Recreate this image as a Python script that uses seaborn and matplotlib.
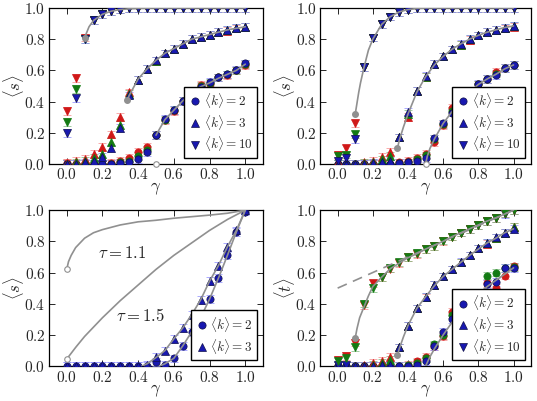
import numpy as np
import matplotlib
matplotlib.use("Agg")
import matplotlib.pyplot as plt
import seaborn as sns

sns.set_style("ticks")
plt.rcParams["mathtext.fontset"] = "cm"
plt.rcParams["font.family"] = ["DejaVu Serif"]

nan = np.nan
gammas = [0.0, 0.05, 0.1, 0.15, 0.2, 0.25, 0.3, 0.35, 0.4, 0.45, 0.5,
          0.55, 0.6, 0.65, 0.7, 0.75, 0.8, 0.85, 0.9, 0.95, 1.0]
err = 0.024

# ---- top left: <s>
tl_k10_r = [0.34, 0.55, 0.81, 0.92, 0.96, 0.98, 0.99, 1.0, 1.0, 1.0, 1.0, 1.0, 1.0, 1.0, 1.0, 1.0, 1.0, 1.0, 1.0, 1.0, 1.0]
tl_k10_g = [0.27, 0.48, 0.80, 0.92, 0.96, 0.98, 0.99, 1.0, 1.0, 1.0, 1.0, 1.0, 1.0, 1.0, 1.0, 1.0, 1.0, 1.0, 1.0, 1.0, 1.0]
tl_k10_b = [0.20, 0.42, 0.80, 0.92, 0.96, 0.98, 0.99, 1.0, 1.0, 1.0, 1.0, 1.0, 1.0, 1.0, 1.0, 1.0, 1.0, 1.0, 1.0, 1.0, 1.0]
tl_k3_r = [0.005, 0.02, 0.035, 0.065, 0.11, 0.19, 0.30, 0.46, 0.54, 0.61, 0.66, 0.71, 0.74, 0.77, 0.80, 0.815, 0.83, 0.845, 0.855, 0.87, 0.88]
tl_k3_g = [0.0, 0.01, 0.02, 0.04, 0.065, 0.14, 0.25, 0.45, 0.54, 0.61, 0.66, 0.71, 0.74, 0.77, 0.80, 0.815, 0.83, 0.845, 0.86, 0.875, 0.88]
tl_k3_b = [0.0, 0.0, 0.01, 0.02, 0.045, 0.10, 0.23, 0.44, 0.54, 0.61, 0.665, 0.71, 0.74, 0.77, 0.80, 0.815, 0.83, 0.845, 0.86, 0.875, 0.88]
tl_k2_r = [0.005, 0.0, 0.0, 0.0, 0.0, 0.005, 0.02, 0.04, 0.08, 0.11, 0.185, 0.28, 0.34, 0.405, 0.455, 0.505, 0.515, 0.555, 0.57, 0.60, 0.635]
tl_k2_g = [0.0, 0.0, 0.0, 0.0, 0.0, 0.0, 0.01, 0.02, 0.05, 0.09, 0.185, 0.285, 0.345, 0.405, 0.455, 0.50, 0.52, 0.555, 0.575, 0.60, 0.64]
tl_k2_b = [0.0, 0.0, 0.0, 0.0, 0.0, 0.0, 0.005, 0.01, 0.03, 0.075, 0.185, 0.29, 0.345, 0.405, 0.455, 0.495, 0.525, 0.555, 0.575, 0.605, 0.645]
tl_th10_x = [0.1, 0.125, 0.15, 0.2, 0.25, 0.3, 0.35, 0.4, 0.5, 0.6, 0.7, 0.8, 0.9, 1.0]
tl_th10_y = [0.81, 0.88, 0.92, 0.96, 0.98, 0.99, 0.995, 0.998, 1.0, 1.0, 1.0, 1.0, 1.0, 1.0]
tl_th3_x = [0.34, 0.35, 0.4, 0.45, 0.5, 0.55, 0.6, 0.65, 0.7, 0.75, 0.8, 0.85, 0.9, 0.95, 1.0]
tl_th3_y = [0.41, 0.44, 0.545, 0.61, 0.665, 0.71, 0.74, 0.77, 0.80, 0.815, 0.83, 0.845, 0.86, 0.87, 0.88]
tl_th2_x = [0.5, 0.55, 0.6, 0.65, 0.7, 0.75, 0.8, 0.85, 0.9, 0.95, 1.0]
tl_th2_y = [0.185, 0.285, 0.345, 0.405, 0.455, 0.495, 0.52, 0.55, 0.575, 0.60, 0.64]
tl_start_x = [0.1, 0.34]
tl_start_y = [0.81, 0.41]
tl_open_x = [0.5]
tl_open_y = [0.0]

# ---- top right: <s>
tr_k10_r = [0.06, 0.10, 0.26, 0.62, 0.81, 0.895, 0.945, 0.975, 0.99, 1.0, 1.0, 1.0, 1.0, 1.0, 1.0, 1.0, 1.0, 1.0, 1.0, 1.0, 1.0]
tr_k10_g = [0.05, 0.06, 0.19, 0.62, 0.81, 0.895, 0.945, 0.975, 0.99, 1.0, 1.0, 1.0, 1.0, 1.0, 1.0, 1.0, 1.0, 1.0, 1.0, 1.0, 1.0]
tr_k10_b = [0.02, 0.04, 0.16, 0.62, 0.81, 0.895, 0.945, 0.975, 0.99, 1.0, 1.0, 1.0, 1.0, 1.0, 1.0, 1.0, 1.0, 1.0, 1.0, 1.0, 1.0]
tr_k3_r = [0.01, 0.0, 0.0, 0.01, 0.02, 0.045, 0.08, 0.17, 0.30, 0.47, 0.56, 0.64, 0.69, 0.735, 0.765, 0.795, 0.825, 0.845, 0.86, 0.87, 0.88]
tr_k3_g = [0.0, 0.0, 0.0, 0.005, 0.01, 0.03, 0.05, 0.17, 0.32, 0.47, 0.56, 0.64, 0.69, 0.735, 0.765, 0.80, 0.825, 0.845, 0.86, 0.875, 0.885]
tr_k3_b = [0.0, 0.0, 0.0, 0.0, 0.005, 0.01, 0.02, 0.17, 0.335, 0.47, 0.565, 0.64, 0.69, 0.735, 0.77, 0.80, 0.825, 0.845, 0.86, 0.875, 0.885]
tr_k2_r = [0.0, 0.0, 0.0, 0.0, 0.0, 0.0, 0.0, 0.01, 0.02, 0.04, 0.065, 0.14, 0.25, 0.36, 0.405, 0.46, 0.51, 0.545, 0.59, 0.615, 0.635]
tr_k2_g = [0.0, 0.0, 0.0, 0.0, 0.0, 0.0, 0.0, 0.005, 0.01, 0.03, 0.055, 0.16, 0.255, 0.34, 0.405, 0.46, 0.51, 0.545, 0.58, 0.615, 0.635]
tr_k2_b = [0.0, 0.0, 0.0, 0.0, 0.0, 0.0, 0.0, 0.005, 0.01, 0.02, 0.04, 0.165, 0.26, 0.33, 0.405, 0.46, 0.515, 0.545, 0.57, 0.615, 0.635]
tr_th10_x = [0.1, 0.11, 0.12, 0.13, 0.15, 0.175, 0.2, 0.25, 0.3, 0.35, 0.4, 0.45, 0.5, 0.6, 0.7, 0.8, 0.9, 1.0]
tr_th10_y = [0.32, 0.39, 0.46, 0.52, 0.62, 0.73, 0.80, 0.895, 0.945, 0.975, 0.99, 0.997, 1.0, 1.0, 1.0, 1.0, 1.0, 1.0]
tr_th3_x = [0.34, 0.35, 0.375, 0.4, 0.45, 0.5, 0.55, 0.6, 0.65, 0.7, 0.75, 0.8, 0.85, 0.9, 0.95, 1.0]
tr_th3_y = [0.10, 0.15, 0.24, 0.32, 0.46, 0.56, 0.635, 0.69, 0.735, 0.77, 0.80, 0.825, 0.845, 0.86, 0.875, 0.885]
tr_th2_x = [0.5, 0.51, 0.525, 0.55, 0.6, 0.65, 0.7, 0.75, 0.8, 0.85, 0.9, 0.95, 1.0]
tr_th2_y = [0.0, 0.05, 0.10, 0.16, 0.26, 0.335, 0.405, 0.46, 0.51, 0.545, 0.575, 0.61, 0.635]
tr_start_x = [0.1, 0.34]
tr_start_y = [0.32, 0.10]
tr_open_x = [0.5]
tr_open_y = [0.0]

# ---- bottom left: <s>, tau curves
bl_k3_b = [0.0, 0.0, 0.0, 0.0, 0.005, 0.0, 0.0, 0.0, 0.0, 0.01, 0.06, 0.10, 0.175, 0.245, 0.33, 0.425, 0.545, 0.645, 0.765, 0.87, 1.0]
bl_k2_b = [0.0, 0.0, 0.0, 0.0, 0.0, 0.0, 0.0, 0.0, 0.0, 0.0, 0.025, 0.01, 0.05, 0.13, 0.22, 0.31, 0.43, 0.565, 0.71, 0.86, 0.99]
bl_th3_x = [0.42, 0.45, 0.5, 0.55, 0.6, 0.65, 0.7, 0.75, 0.8, 0.85, 0.9, 0.95, 1.0]
bl_th3_y = [0.0, 0.015, 0.055, 0.10, 0.175, 0.245, 0.33, 0.425, 0.545, 0.645, 0.765, 0.87, 1.0]
bl_th2_x = [0.52, 0.55, 0.6, 0.65, 0.7, 0.75, 0.8, 0.85, 0.9, 0.95, 1.0]
bl_th2_y = [0.0, 0.015, 0.05, 0.13, 0.22, 0.31, 0.43, 0.565, 0.71, 0.86, 1.0]
tau11_x = [0.0, 0.01, 0.025, 0.05, 0.1, 0.15, 0.2, 0.3, 0.4, 0.5, 0.6, 0.7, 0.8, 0.9, 1.0]
tau11_y = [0.62, 0.67, 0.71, 0.76, 0.82, 0.855, 0.875, 0.905, 0.925, 0.935, 0.948, 0.958, 0.968, 0.98, 1.0]
tau15_x = [0.0, 0.05, 0.1, 0.2, 0.3, 0.4, 0.5, 0.6, 0.7, 0.8, 0.9, 1.0]
tau15_y = [0.045, 0.12, 0.19, 0.31, 0.42, 0.52, 0.62, 0.71, 0.79, 0.87, 0.94, 1.0]
bl_open_x = [0.0, 0.0]
bl_open_y = [0.62, 0.045]

# ---- bottom right: <t>
br_k10_r = [0.04, 0.065, 0.15, 0.39, 0.53, 0.57, 0.625, 0.66, 0.70, 0.72, 0.75, 0.77, 0.80, 0.83, 0.855, 0.88, 0.905, 0.93, 0.95, 0.98, 1.0]
br_k10_g = [0.03, 0.05, 0.12, 0.40, 0.50, 0.57, 0.63, 0.665, 0.70, 0.725, 0.75, 0.77, 0.805, 0.83, 0.855, 0.88, 0.905, 0.93, 0.95, 0.98, 1.0]
br_k10_b = [0.01, 0.005, nan, nan, nan, nan, nan, nan, nan, nan, nan, nan, nan, nan, 0.855, 0.88, 0.905, 0.93, 0.95, 0.975, 1.0]
br_k3_r = [0.0, 0.0, 0.0, 0.005, 0.02, 0.035, 0.06, 0.12, 0.26, 0.37, 0.44, 0.52, 0.575, 0.62, 0.665, 0.71, 0.755, 0.785, 0.82, 0.855, 0.895]
br_k3_g = [0.0, 0.0, 0.0, 0.0, 0.01, 0.02, 0.04, 0.12, 0.26, 0.37, 0.445, 0.52, 0.575, 0.62, 0.665, 0.71, 0.755, 0.79, 0.82, 0.855, 0.895]
br_k3_b = [0.0, 0.0, 0.0, 0.0, 0.0, 0.005, 0.01, 0.12, 0.26, 0.37, 0.445, 0.52, 0.575, 0.62, 0.67, 0.71, 0.755, 0.79, 0.825, 0.855, 0.88]
br_k2_r = [0.0, 0.0, 0.0, 0.0, 0.0, 0.0, 0.0, 0.0, 0.01, 0.03, 0.06, 0.13, 0.19, 0.35, 0.36, 0.455, 0.45, 0.53, 0.50, 0.58, 0.64]
br_k2_g = [0.0, 0.0, 0.0, 0.0, 0.0, 0.0, 0.0, 0.0, 0.005, 0.02, 0.05, 0.14, 0.20, 0.33, 0.36, 0.45, 0.46, 0.58, 0.60, 0.63, 0.635]
br_k2_b = [0.0, 0.0, 0.0, 0.0, 0.0, 0.0, 0.0, 0.0, 0.0, 0.01, 0.03, 0.13, 0.22, 0.30, 0.36, 0.44, 0.47, 0.525, 0.54, 0.63, 0.63]
br_th10_x = [0.1, 0.11, 0.125, 0.15, 0.175, 0.2, 0.25, 0.3, 0.35, 0.4, 0.45, 0.5, 0.55, 0.6, 0.65, 0.7, 0.75, 0.8, 0.85, 0.9, 0.95, 1.0]
br_th10_y = [0.18, 0.24, 0.31, 0.38, 0.45, 0.51, 0.57, 0.625, 0.66, 0.695, 0.72, 0.75, 0.775, 0.80, 0.83, 0.855, 0.88, 0.905, 0.93, 0.95, 0.975, 1.0]
br_th3_x = [0.34, 0.35, 0.375, 0.4, 0.45, 0.5, 0.55, 0.6, 0.65, 0.7, 0.75, 0.8, 0.85, 0.9, 0.95, 1.0]
br_th3_y = [0.07, 0.11, 0.19, 0.26, 0.37, 0.445, 0.515, 0.575, 0.62, 0.665, 0.71, 0.75, 0.79, 0.82, 0.855, 0.88]
br_th2_x = [0.5, 0.525, 0.55, 0.6, 0.65, 0.7, 0.75, 0.8, 0.85, 0.9, 0.95, 1.0]
br_th2_y = [0.0, 0.06, 0.11, 0.20, 0.28, 0.35, 0.41, 0.46, 0.51, 0.55, 0.59, 0.63]
br_dash_x = [0.0, 1.0]
br_dash_y = [0.5, 1.0]
br_start_x = [0.1, 0.34]
br_start_y = [0.18, 0.07]

tick_vals = [0.0, 0.2, 0.4, 0.6, 0.8, 1.0]
legend_labels = [r"$\langle k\rangle = 2$", r"$\langle k\rangle = 3$", r"$\langle k\rangle = 10$"]

red, green, blue = "#d01818", "#137a13", "#1818b0"
light = {red: "#f58a8a", green: "#78b878", blue: "#8a8aff"}
gray = "#909090"
ms = 5.2


def series(ax, vals, color, marker):
    ax.errorbar(gammas, vals, yerr=err, fmt=marker, color=color, ecolor=light[color],
                ms=ms, mec="#10104a" if color == blue else color, mew=0.5,
                elinewidth=0.9, capsize=3.0, capthick=1.0, zorder=3)


def theory(ax, x, y, ls="-"):
    sns.lineplot(x=x, y=y, ax=ax, color=gray, lw=1.2, ls=ls, sort=False,
                 estimator=None, zorder=4)


def style(ax, ylabel):
    ax.set_xlim(-0.1, 1.1)
    ax.set_ylim(0.0, 1.0)
    ax.set_xticks(tick_vals)
    ax.set_yticks(tick_vals)
    ax.set_xticklabels([f"${v:.1f}$" for v in tick_vals])
    ax.set_yticklabels([f"${v:.1f}$" for v in tick_vals])
    ax.tick_params(direction="in", top=True, right=True, length=4, width=0.7,
                   labelsize=11, pad=2.5)
    for s in ax.spines.values():
        s.set_linewidth(0.9)
        s.set_color("black")
    ax.set_xlabel(r"$\gamma$", fontsize=12, labelpad=-2)
    ax.set_ylabel(ylabel, fontsize=12, labelpad=-1)


def legend(ax, n):
    handles = []
    for m in ["o", "^", "v"][:n]:
        h, = ax.plot([], [], m, color=blue, mec="#10104a", mew=0.5, ms=ms)
        handles.append(h)
    leg = ax.legend(handles, legend_labels[:n], loc="lower right", fontsize=9.5,
                    handletextpad=0.15, borderpad=0.35, labelspacing=0.2,
                    handlelength=1.0, borderaxespad=0.45, fancybox=False,
                    framealpha=1, edgecolor="black")
    leg.get_frame().set_linewidth(1.0)


fig = plt.figure(figsize=(5.37, 4.01), dpi=100)
ax_tl = fig.add_axes([0.091, 0.591, 0.399, 0.389])
ax_tr = fig.add_axes([0.596, 0.591, 0.393, 0.389])
ax_bl = fig.add_axes([0.091, 0.087, 0.399, 0.389])
ax_br = fig.add_axes([0.596, 0.087, 0.393, 0.389])

# top left
for vals, c in [(tl_k2_r, red), (tl_k2_g, green), (tl_k2_b, blue)]:
    series(ax_tl, vals, c, "o")
for vals, c in [(tl_k3_r, red), (tl_k3_g, green), (tl_k3_b, blue)]:
    series(ax_tl, vals, c, "^")
for vals, c in [(tl_k10_r, red), (tl_k10_g, green), (tl_k10_b, blue)]:
    series(ax_tl, vals, c, "v")
theory(ax_tl, tl_th10_x, tl_th10_y)
theory(ax_tl, tl_th3_x, tl_th3_y)
theory(ax_tl, tl_th2_x, tl_th2_y)
ax_tl.plot(tl_start_x, tl_start_y, "o", color=gray, ms=4, zorder=5)
ax_tl.plot(tl_open_x, tl_open_y, "o", mfc="white", mec=gray, ms=4, mew=0.8, zorder=5, clip_on=False)
style(ax_tl, r"$\langle s\rangle$")
legend(ax_tl, 3)

# top right
for vals, c in [(tr_k2_r, red), (tr_k2_g, green), (tr_k2_b, blue)]:
    series(ax_tr, vals, c, "o")
for vals, c in [(tr_k3_r, red), (tr_k3_g, green), (tr_k3_b, blue)]:
    series(ax_tr, vals, c, "^")
for vals, c in [(tr_k10_r, red), (tr_k10_g, green), (tr_k10_b, blue)]:
    series(ax_tr, vals, c, "v")
theory(ax_tr, tr_th10_x, tr_th10_y)
theory(ax_tr, tr_th3_x, tr_th3_y)
theory(ax_tr, tr_th2_x, tr_th2_y)
ax_tr.plot(tr_start_x, tr_start_y, "o", color=gray, ms=4, zorder=5)
ax_tr.plot(tr_open_x, tr_open_y, "o", mfc="white", mec=gray, ms=4, mew=0.8, zorder=5, clip_on=False)
style(ax_tr, r"$\langle s\rangle$")
legend(ax_tr, 3)

# bottom left
series(ax_bl, bl_k2_b, blue, "o")
series(ax_bl, bl_k3_b, blue, "^")
theory(ax_bl, bl_th3_x, bl_th3_y)
theory(ax_bl, bl_th2_x, bl_th2_y)
theory(ax_bl, tau11_x, tau11_y)
theory(ax_bl, tau15_x, tau15_y)
ax_bl.plot(bl_open_x, bl_open_y, "o", mfc="white", mec=gray, ms=4, mew=0.8, zorder=5)
ax_bl.text(0.31, 0.72, r"$\tau = 1.1$", fontsize=12, ha="center", va="center")
ax_bl.text(0.41, 0.32, r"$\tau = 1.5$", fontsize=12, ha="center", va="center")
style(ax_bl, r"$\langle s\rangle$")
legend(ax_bl, 2)

# bottom right
for vals, c in [(br_k2_r, red), (br_k2_g, green), (br_k2_b, blue)]:
    series(ax_br, vals, c, "o")
for vals, c in [(br_k3_r, red), (br_k3_g, green), (br_k3_b, blue)]:
    series(ax_br, vals, c, "^")
for vals, c in [(br_k10_b, blue), (br_k10_r, red), (br_k10_g, green)]:
    series(ax_br, vals, c, "v")
theory(ax_br, br_dash_x, br_dash_y, ls=(0, (6, 4)))
theory(ax_br, br_th10_x, br_th10_y)
theory(ax_br, br_th3_x, br_th3_y)
theory(ax_br, br_th2_x, br_th2_y)
ax_br.plot(br_start_x, br_start_y, "o", color=gray, ms=4, zorder=5)
style(ax_br, r"$\langle t\rangle$")
legend(ax_br, 3)

fig.savefig("out.png", dpi=100)
